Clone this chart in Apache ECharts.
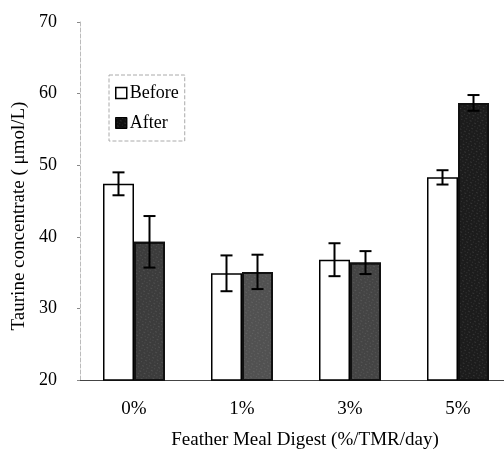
<!DOCTYPE html>
<html>
<head>
<meta charset="utf-8">
<script src="https://cdn.jsdelivr.net/npm/echarts@6/dist/echarts.min.js"></script>
<style>
  html, body { margin: 0; padding: 0; background: #fff; }
  #chart { width: 504px; height: 451px; }
</style>
</head>
<body>
<div id="chart"></div>
<script>
// doses of feather meal digest
var categories = ['0%', '1%', '3%', '5%'];
// taurine, before / after
var beforeVals = [47.4, 34.9, 36.8, 48.3];
var afterVals = [39.3, 35.1, 36.4, 58.7];
// error bar half widths
var beforeErr = [1.6, 2.5, 2.3, 1.0];
var afterErr = [3.6, 2.4, 1.6, 1.1];
var yTicks = [20, 30, 40, 50, 60, 70];

var BAR_W = 31;
var FONT = 'Liberation Serif';
// the scanned "after" bars are not all the same shade
var afterShades = ['#3c3c3c', '#515151', '#444444', '#1c1c1c'];

var chart = echarts.init(document.getElementById('chart'));

// draw error bar for one series, shifted by dx
function errorBar (vals, errs, dx) {
  return function (params, api) {
    var i = api.value(0);
    var top = api.coord([i, vals[i] + errs[i]]);
    var bot = api.coord([i, vals[i] - errs[i]]);
    var x = top[0] + dx;
    var cap = 6;
    var st = {stroke: '#000', lineWidth: 2};
    return {
      type: 'group',
      children: [
        {type: 'line', shape: {x1: x, y1: top[1], x2: x, y2: bot[1]}, style: st},
        {type: 'line', shape: {x1: x - cap, y1: top[1], x2: x + cap, y2: top[1]}, style: st},
        {type: 'line', shape: {x1: x - cap, y1: bot[1], x2: x + cap, y2: bot[1]}, style: st}
      ]
    };
  };
}

var option = {
  backgroundColor: '#fff',
  animation: false,
  grid: {left: 80, top: 22, width: 432, height: 358, containLabel: false, outerBoundsMode: 'none'},
  legend: {
    orient: 'vertical',
    left: 109,
    top: 75,
    padding: [9, 6, 9, 6],
    itemGap: 12,
    itemWidth: 11,
    itemHeight: 11,
    borderColor: '#aaa',
    borderWidth: 1,
    borderType: 'dashed',
    textStyle: {fontFamily: FONT, fontSize: 18, color: '#000', padding: [0, 0, 0, -2]},
    data: [
      {name: 'Before', icon: 'rect', itemStyle: {color: '#fff', borderColor: '#000', borderWidth: 1.5}},
      {name: 'After', icon: 'rect', itemStyle: {color: '#111', borderColor: '#000', borderWidth: 1}}
    ]
  },
  xAxis: {
    type: 'category',
    data: categories,
    axisTick: {show: false},
    axisLine: {lineStyle: {color: '#444', width: 1}},
    axisLabel: {fontFamily: FONT, fontSize: 19, color: '#000', margin: 20},
    name: 'Feather Meal Digest (%/TMR/day)',
    nameLocation: 'middle',
    nameGap: 51,
    nameTextStyle: {fontFamily: FONT, fontSize: 19, color: '#000', padding: [0, 0, 0, 18]}
  },
  yAxis: {
    type: 'value',
    min: yTicks[0],
    max: yTicks[yTicks.length - 1],
    interval: 10,
    axisLine: {show: true, lineStyle: {color: '#bbb', width: 1, type: 'dashed'}},
    axisTick: {show: true, length: 3, lineStyle: {color: '#888'}},
    splitLine: {show: false},
    axisLabel: {fontFamily: FONT, fontSize: 18, color: '#000', margin: 23},
    name: 'Taurine concentrate ( μmol/L)',
    nameLocation: 'middle',
    nameGap: 48,
    nameTextStyle: {fontFamily: FONT, fontSize: 19, color: '#000', padding: [0, 0, 0, -30]}
  },
  series: [
    {
      name: 'Before',
      type: 'bar',
      data: beforeVals,
      barWidth: BAR_W,
      barGap: '0%',
      itemStyle: {color: '#fff', borderColor: '#000', borderWidth: 1.5}
    },
    {
      name: 'After',
      type: 'bar',
      data: afterVals,
      barWidth: BAR_W,
      barGap: '0%',
      itemStyle: {
        color: function (p) { return afterShades[p.dataIndex]; },
        borderColor: '#111',
        borderWidth: 2,
        decal: {
          symbol: 'rect',
          symbolSize: 0.7,
          color: 'rgba(200,200,200,0.4)',
          dashArrayX: [[1, 2], [2, 3]],
          dashArrayY: [1, 2],
          rotation: 0.5
        }
      }
    },
    {
      type: 'custom',
      renderItem: errorBar(beforeVals, beforeErr, -BAR_W / 2),
      data: categories.map(function (c, i) { return [i]; }),
      z: 10,
      silent: true
    },
    {
      type: 'custom',
      renderItem: errorBar(afterVals, afterErr, BAR_W / 2),
      data: categories.map(function (c, i) { return [i]; }),
      z: 10,
      silent: true
    }
  ]
};

chart.setOption(option);
</script>
</body>
</html>
